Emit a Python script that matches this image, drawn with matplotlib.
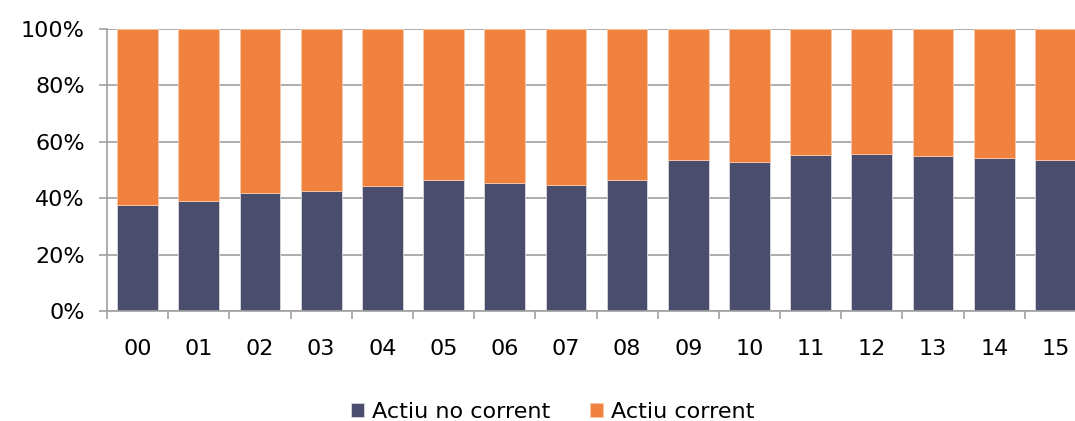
import matplotlib
matplotlib.use("Agg")
import matplotlib.pyplot as plt
from matplotlib.ticker import FuncFormatter

years = ["00", "01", "02", "03", "04", "05", "06", "07",
         "08", "09", "10", "11", "12", "13", "14", "15"]
actiu_no_corrent = [37.6, 39.0, 41.7, 42.7, 44.4, 46.6, 45.5, 44.7,
                    46.6, 53.4, 52.7, 55.4, 55.8, 55.1, 54.4, 53.7]
actiu_corrent = [100 - v for v in actiu_no_corrent]

dark = "#4a4e6c"
orange = "#f0813f"
grid_gray = "#a0a0a0"

plt.rcParams["font.family"] = ["DejaVu Sans"]

fig = plt.figure(figsize=(10.75, 4.21), dpi=100)
ax = fig.add_axes([107 / 1075, 110 / 421, 979 / 1075, 282 / 421])

x = list(range(len(years)))
ax.bar(x, actiu_no_corrent, width=0.665, color=dark, edgecolor="#d9d9e0",
       linewidth=0.6, label="Actiu no corrent", zorder=3)
ax.bar(x, actiu_corrent, bottom=actiu_no_corrent, width=0.665, color=orange,
       edgecolor="#f6c8a8", linewidth=0.6, label="Actiu corrent", zorder=3)

ax.set_xlim(-0.5, len(years) - 0.5)
ax.set_ylim(0, 100)
ax.set_yticks(range(0, 101, 20))
ax.yaxis.set_major_formatter(FuncFormatter(lambda v, p: f"{int(v)}%"))
ax.grid(axis="y", color=grid_gray, linewidth=1.2, zorder=0)

# category boundary ticks, labels centred between them
ax.set_xticks([i - 0.5 for i in range(len(years) + 1)])
ax.set_xticklabels([])
ax.set_xticks(x, minor=True)
ax.set_xticklabels(years, minor=True)
ax.tick_params(axis="x", which="major", length=6, width=1.2, color=grid_gray)
ax.tick_params(axis="x", which="minor", length=0, pad=20, labelsize=16)
ax.tick_params(axis="y", length=6, width=1.2, color=grid_gray, labelsize=16, pad=10)

for s in ["top", "right"]:
    ax.spines[s].set_visible(False)
for s in ["left", "bottom"]:
    ax.spines[s].set_color(grid_gray)
    ax.spines[s].set_linewidth(1.2)
    ax.spines[s].set_zorder(4)

fig.legend(loc="center", bbox_to_anchor=(0.514, 0.022), ncol=2, frameon=False,
           fontsize=16, handlelength=0.6, handleheight=0.6, handletextpad=0.35,
           columnspacing=1.8)

fig.savefig("out.png", dpi=100)
